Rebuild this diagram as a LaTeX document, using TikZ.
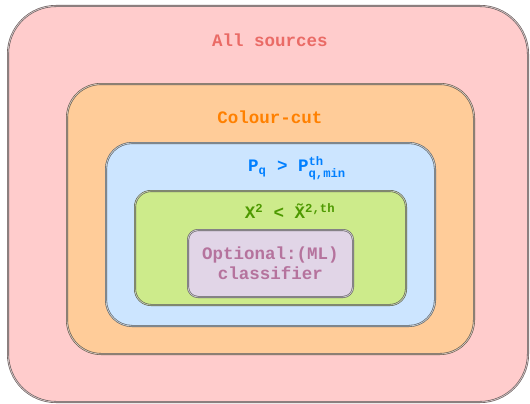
\documentclass[tikz,border=0pt]{standalone}
\usepackage{amsmath}
\usepackage{fontspec}
\setmainfont{Liberation Mono}
\definecolor{pinkfill}{HTML}{FFCCCC}
\definecolor{pinktext}{HTML}{EA6B66}
\definecolor{orangefill}{HTML}{FFCC99}
\definecolor{orangetext}{HTML}{FF8000}
\definecolor{bluefill}{HTML}{CCE5FF}
\definecolor{bluetext}{HTML}{007FFF}
\definecolor{greenfill}{HTML}{CDEB8B}
\definecolor{greentext}{HTML}{4D9900}
\definecolor{purplefill}{HTML}{E1D5E7}
\definecolor{purpletext}{HTML}{B5739D}
\tikzset{
  cutbox/.style={rectangle, draw=#1!30!black!85, double=#1!40!gray!60,
    double distance=0.8pt, line width=0.6pt, fill=#1, inner sep=0pt},
  cutlabel/.style={font=\fontsize{17.5}{20}\selectfont\bfseries, align=center}
}
\begin{document}
\begin{tikzpicture}[x=1pt,y=-1pt]
\useasboundingbox (0,0) rectangle (530,404);
% nested selection boxes
\node[cutbox=pinkfill, rounded corners=48pt, minimum width=520pt, minimum height=396pt]
  (sources) at (268,204) {};
\node[cutbox=orangefill, rounded corners=34pt, minimum width=407pt, minimum height=270pt]
  (colourcut) at (270.5,219) {};
\node[cutbox=bluefill, rounded corners=26pt, minimum width=329pt, minimum height=183pt]
  (pqcut) at (270.5,234.5) {};
\node[cutbox=greenfill, rounded corners=16pt, minimum width=271pt, minimum height=114pt]
  (chicut) at (270.5,248) {};
\node[cutbox=purplefill, rounded corners=10pt, minimum width=165pt, minimum height=67pt]
  (classifier) at (270.5,263.5) {};

% box titles
\node[cutlabel, text=pinktext] (sourcestitle) at (270,40) {All sources};
\node[cutlabel, text=orangetext] (colourtitle) at (270,117) {Colour-cut};
\node[cutlabel, text=bluetext] (pqtitle) at (297,168)
  {P$_{\text{q}}$ > P$^{\text{th}}_{\text{q,min}}$};
\node[cutlabel, text=greentext] (chititle) at (290,211)
  {X$^{\text{2}}$ < \~{X}$^{\text{2,th}}$};
\node[cutlabel, text=purpletext] (mltitle) at (270.5,263.5)
  {Optional:(ML)\\classifier};
\end{tikzpicture}
\end{document}
